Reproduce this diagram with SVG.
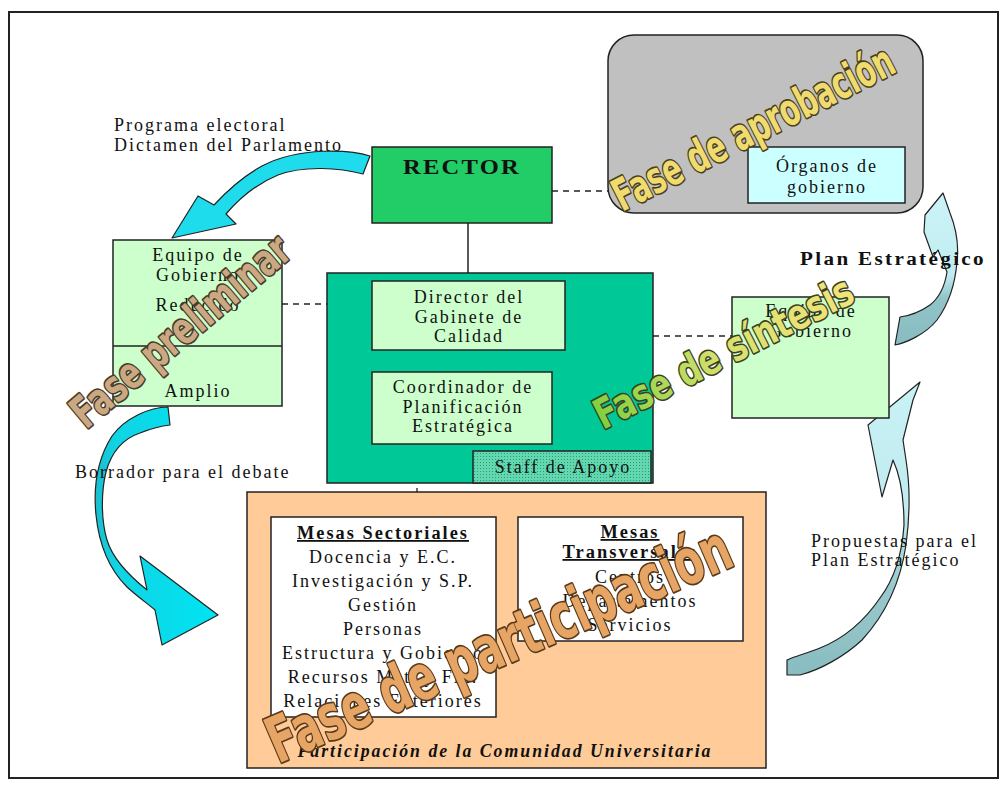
<svg xmlns="http://www.w3.org/2000/svg" width="1008" height="791" viewBox="0 0 1008 791">
<defs>
<style>
.t{font-family:"Liberation Serif","Times New Roman",serif;font-size:18px;letter-spacing:2px;fill:#111}
.c{text-anchor:middle}
.b{font-weight:bold}
.box{stroke:#222;stroke-width:1.5}
.dash{stroke:#222;stroke-width:1.3;stroke-dasharray:6,5;fill:none}
.solid{stroke:#222;stroke-width:1.5;fill:none}
.wa{font-family:"DejaVu Sans","Liberation Sans",Arial,sans-serif;font-weight:bold;stroke-width:2.6;stroke-linejoin:round;paint-order:stroke}
.arr{stroke:#222;stroke-width:1.2;stroke-linejoin:round}
</style>
<pattern id="dots" width="3" height="3" patternUnits="userSpaceOnUse">
<rect width="3" height="3" fill="#63d8b0"/>
<rect width="1" height="1" fill="#2a9c78"/>
</pattern>
<linearGradient id="gSint" x1="0" y1="0" x2="1" y2="0">
<stop offset="0" stop-color="#7fd040"/>
<stop offset="0.5" stop-color="#d8e070"/>
<stop offset="1" stop-color="#f2e47a"/>
</linearGradient>
<linearGradient id="gR3" x1="0" y1="380" x2="0" y2="680" gradientUnits="userSpaceOnUse">
<stop offset="0" stop-color="#c8f2f6"/>
<stop offset="0.45" stop-color="#c0eaee"/>
<stop offset="0.7" stop-color="#98c8cc"/>
<stop offset="1" stop-color="#88bcc0"/>
</linearGradient>
<linearGradient id="gR4" x1="0" y1="190" x2="0" y2="345" gradientUnits="userSpaceOnUse">
<stop offset="0" stop-color="#ccf4f8"/>
<stop offset="0.55" stop-color="#c0ecf0"/>
<stop offset="0.7" stop-color="#90c4c8"/>
<stop offset="1" stop-color="#88bcc0"/>
</linearGradient>
<linearGradient id="gBor" x1="90" y1="0" x2="220" y2="0" gradientUnits="userSpaceOnUse">
<stop offset="0" stop-color="#1cb8c8"/>
<stop offset="0.2" stop-color="#10d4e4"/>
<stop offset="1" stop-color="#00e4f2"/>
</linearGradient>
</defs>

<rect id="frame" x="9" y="12" width="989" height="766" fill="#fff" stroke="#222" stroke-width="2"/>

<g id="connectors">
<line class="dash" x1="552" y1="191" x2="608" y2="191"/>
<line class="solid" x1="468" y1="223" x2="468" y2="273"/>
<line class="dash" x1="282" y1="304" x2="372" y2="304"/>
<line class="solid" x1="458" y1="350" x2="458" y2="372"/>
<line class="dash" x1="565" y1="336" x2="732" y2="336"/>
<line class="dash" x1="417" y1="444" x2="417" y2="492"/>
<path id="arrow-programa" class="arr" fill="#1edcec" d="M370,156 C352,150 300,146 262,166 C240,178 226,192 214,205 L198,196 L172,238 L236,224 L226,214 C238,200 256,184 278,175 C305,165 340,168 363,174 Z"/>
<path id="arrow-borrador" class="arr" fill="url(#gBor)" d="M168,407 C150,407 125,418 112,436 C98,458 93,485 96,515 C99,545 110,570 127,587 C138,597 148,604 155,610 L162,645 L218,615 L140,556 L147,590 C132,578 113,560 107,540 C101,520 101,492 106,472 C112,450 125,438 140,433 C150,429 160,426 170,425 Z"/>
<path id="arrow-propuestas" class="arr" fill="url(#gR3)" d="M787,675 L800,675 C820,670 845,656 862,640 C885,615 900,585 906,545 C910,515 910,485 906,460 L903,440 L913,400 L920,382 L868,425 L882,497 L893,460 C900,475 904,500 904,525 C902,555 895,578 880,598 C865,620 845,638 820,648 C805,654 795,656 787,660 Z"/>
<path id="arrow-plan" class="arr" fill="url(#gR4)" d="M895,345 C905,343 925,335 937,320 C948,305 955,285 957,262 C959,245 956,228 950,213 L943,193 L925,215 L924,232 L933,257 L938,250 L947,272 C945,285 940,297 930,305 C920,312 908,316 900,317 Z"/>
</g>

<g id="rector">
<rect class="box" x="372" y="147" width="180" height="76" fill="#22cc66"/>
<text class="t b c" x="462" y="174" style="font-size:22px" textLength="118" lengthAdjust="spacingAndGlyphs">RECTOR</text>
</g>

<g id="fase-aprobacion">
<rect class="box" x="608" y="35" width="315" height="178" rx="26" fill="#c0c0c0"/>
<g id="organos">
<rect class="box" x="748" y="147" width="157" height="56" fill="#ccffff"/>
<text class="t c" x="827" y="172">Órganos de</text>
<text class="t c" x="827" y="193">gobierno</text>
</g>
</g>

<g id="equipo-gobierno-izq">
<rect class="box" x="113" y="240" width="169" height="166" fill="#ccffcc"/>
<line class="solid" x1="113" y1="346" x2="282" y2="346"/>
<text class="t c" x="198" y="261">Equipo de</text>
<text class="t c" x="198" y="281">Gobierno</text>
<text class="t c" x="198" y="311">Reducido</text>
<text class="t c" x="198" y="397">Amplio</text>
</g>

<g id="gabinete">
<rect class="box" x="327" y="273" width="326" height="210" fill="#00c896"/>
<g id="director">
<rect class="box" x="372" y="281" width="193" height="69" fill="#ccffcc"/>
<text class="t c" x="469" y="303">Director del</text>
<text class="t c" x="469" y="323">Gabinete de</text>
<text class="t c" x="469" y="342">Calidad</text>
</g>
<g id="coordinador">
<rect class="box" x="372" y="372" width="180" height="72" fill="#ccffcc"/>
<text class="t c" x="463" y="393">Coordinador de</text>
<text class="t c" x="463" y="413">Planificación</text>
<text class="t c" x="463" y="432">Estratégica</text>
</g>
<g id="staff">
<rect class="box" x="473" y="451" width="178" height="32" fill="url(#dots)"/>
<text class="t c" x="563" y="473">Staff de Apoyo</text>
</g>
</g>

<g id="equipo-gobierno-der">
<rect class="box" x="732" y="297" width="157" height="121" fill="#ccffcc"/>
<text class="t c" x="811" y="317">Equipo de</text>
<text class="t c" x="811" y="337">Gobierno</text>
</g>

<g id="participacion">
<rect class="box" x="247" y="492" width="519" height="276" fill="#ffcc99"/>
<g id="mesas-sectoriales">
<rect class="box" x="271" y="517" width="225" height="200" fill="#fff"/>
<text class="t b c" x="383" y="539" text-decoration="underline" textLength="172" lengthAdjust="spacingAndGlyphs">Mesas Sectoriales</text>
<text class="t c" x="383" y="563">Docencia y E.C.</text>
<text class="t c" x="383" y="587">Investigación y S.P.</text>
<text class="t c" x="383" y="611">Gestión</text>
<text class="t c" x="383" y="635">Personas</text>
<text class="t c" x="383" y="659">Estructura y Gobierno</text>
<text class="t c" x="383" y="683">Recursos Mat. y Fin.</text>
<text class="t c" x="383" y="707">Relaciones Exteriores</text>
</g>
<g id="mesas-transversales">
<rect class="box" x="518" y="517" width="225" height="124" fill="#fff"/>
<text class="t b c" x="630" y="538" text-decoration="underline" textLength="59" lengthAdjust="spacingAndGlyphs">Mesas</text>
<text class="t b c" x="630" y="558" text-decoration="underline" textLength="135" lengthAdjust="spacingAndGlyphs">Transversales</text>
<text class="t c" x="630" y="583">Centros</text>
<text class="t c" x="630" y="607">Departamentos</text>
<text class="t c" x="630" y="631">Servicios</text>
</g>
<text class="t b c" x="505" y="757" font-style="italic" textLength="415" lengthAdjust="spacingAndGlyphs">Participación de la Comunidad Universitaria</text>
</g>

<g id="labels">
<text class="t" x="114" y="131">Programa electoral</text>
<text class="t" x="114" y="151">Dictamen del Parlamento</text>
<text class="t" x="75" y="478">Borrador para el debate</text>
<text class="t b" x="800" y="265" textLength="186" lengthAdjust="spacingAndGlyphs">Plan Estratégico</text>
<text class="t" x="811" y="547">Propuestas para el</text>
<text class="t" x="811" y="566">Plan Estratégico</text>
</g>

<g id="wordart">
<text class="wa" transform="translate(86,430) rotate(-40) scale(1,1.3)" font-size="34" fill="#c9a882" stroke="#4a3a2a" textLength="272" lengthAdjust="spacingAndGlyphs">Fase preliminar</text>
<text class="wa" transform="translate(622,212) rotate(-27) scale(1,1.3)" font-size="34" fill="#f0dc6e" stroke="#4a4020" textLength="310" lengthAdjust="spacingAndGlyphs">Fase de aprobación</text>
<text class="wa" transform="translate(603,430) rotate(-27) scale(1,1.3)" font-size="32" fill="url(#gSint)" stroke="#3a4020" textLength="285" lengthAdjust="spacingAndGlyphs">Fase de síntesis</text>
<text class="wa" transform="translate(278,764) rotate(-23.5) scale(1,1.32)" font-size="48" fill="#e6a565" stroke="#5a3a1a" textLength="500" lengthAdjust="spacingAndGlyphs">Fase de participación</text>
</g>
</svg>
